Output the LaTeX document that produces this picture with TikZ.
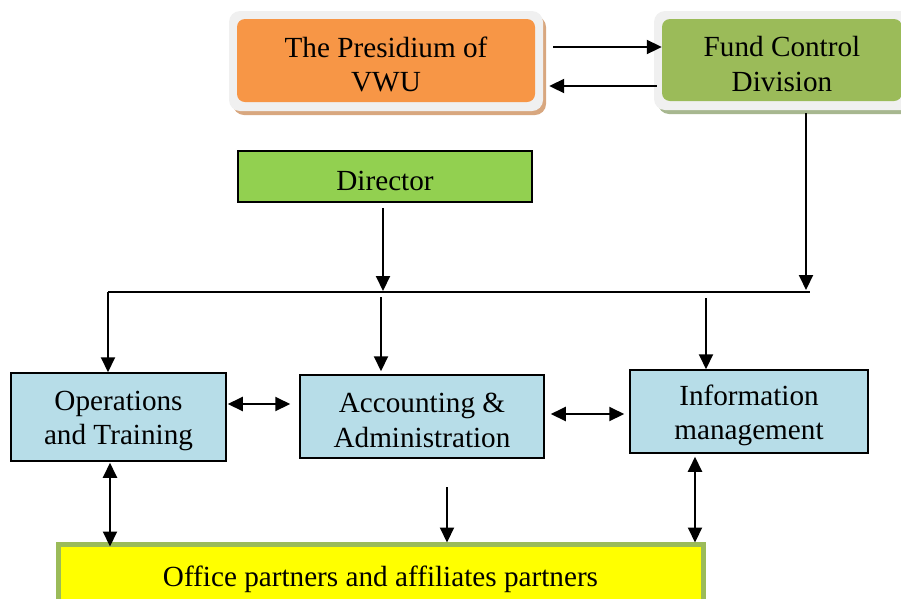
\documentclass[tikz,border=0pt]{standalone}
\usepackage{fontspec}
\setmainfont{Liberation Serif}
\usetikzlibrary{arrows.meta,calc}
\definecolor{presorange}{HTML}{F79646}
\definecolor{fundgreen}{HTML}{9BBB59}
\definecolor{dirgreen}{HTML}{92D050}
\definecolor{unitblue}{HTML}{B7DDE8}
\definecolor{officeyellow}{HTML}{FFFF00}
\definecolor{frameg}{HTML}{F0F0F0}
\definecolor{tanshadow}{HTML}{D8A77F}
\definecolor{greenshadow}{HTML}{A7B78F}
\tikzset{tipshape/.tip={Triangle[length=15pt 0 0,width=14pt 0 0]}}
\begin{document}
\begin{tikzpicture}[x=1pt,y=-1pt,
  lbl/.style={font=\fontsize{29.2}{34.5}\selectfont, align=center, inner sep=0pt, text=black},
  txt/.style={label={[lbl, yshift=-4pt]center:{#1}}},
  topbox/.style={inner sep=0pt, rounded corners=8pt},
  unitbox/.style={inner sep=0pt, draw=black, line width=1.5pt, fill=unitblue},
  conn/.style={line width=2pt, draw=black},
  arr/.style={conn, -tipshape},
  darr/.style={conn, tipshape-tipshape}
]
\useasboundingbox (0,0) rectangle (901,598);
\clip (0,0) rectangle (901,598);

% frames and shadows of the two top boxes
\fill[tanshadow, rounded corners=11pt] (233,16) rectangle (546,115);
\fill[frameg, rounded corners=11pt] (229,11) rectangle (543,111);
\fill[greenshadow, rounded corners=11pt] (658,16) rectangle (916,114);
\fill[frameg, rounded corners=11pt] (654,11) rectangle (912,110);

\node[topbox, fill=presorange, minimum width=298pt, minimum height=83pt,
      txt={The Presidium of\\VWU}] (pres) at (386,60.5) {};
\node[topbox, fill=fundgreen, minimum width=240pt, minimum height=82pt,
      txt={Fund Control\\Division}] (fund) at (782,60) {};

\node[inner sep=0pt, draw=black, line width=1.5pt, fill=dirgreen, minimum width=294pt, minimum height=51pt,
      txt={Director}] (dir) at (385,176.5) {};

\node[unitbox, minimum width=215pt, minimum height=88pt, txt={Operations\\and Training}] (ops) at (118.5,417) {};
\node[unitbox, minimum width=244pt, minimum height=83pt, txt={Accounting \&\\Administration}] (acc) at (422,416.5) {};
\node[unitbox, minimum width=238pt, minimum height=83pt, txt={Information\\management}] (info) at (749,411.5) {};

\node[inner sep=0pt, draw=fundgreen, line width=5pt, fill=officeyellow, minimum width=645pt, minimum height=66pt,
      label={[lbl, yshift=-2pt]center:{Office partners and affiliates partners}}] (office) at (380.5,577) {};

% junction points on the distribution line
\coordinate (jl) at (108,292);
\coordinate (jr) at (810,292);
\coordinate (jd) at (383,291);
\coordinate (jf) at (806,290);
\coordinate (mstart) at (381,297);
\coordinate (rstart) at (706,298);
\coordinate (astart) at (447,487);

% top arrows
\draw[arr] ([shift={(18,-13.5)}]pres.east) -- ([shift={(0,-13)}]fund.west);
\draw[arr] ([shift={(-5,26)}]fund.west) -- ([shift={(14,25.5)}]pres.east);

% director and fund control down to the line
\draw[arr] ([shift={(-2,5)}]dir.south) -- (jd);
\draw[arr] ([shift={(24,12)}]fund.south) -- (jf);
\draw[conn] (jl) -- (jr);

% line down to the units
\draw[arr] (jl) -- ([shift={(-10.5,0)}]ops.north);
\draw[arr] (mstart) -- ([shift={(-41,-3)}]acc.north);
\draw[arr] (rstart) -- ([shift={(-43,0)}]info.north);

% between the units
\draw[darr] ([shift={(1,-13)}]ops.east) -- ([shift={(-9,-12.5)}]acc.west);
\draw[darr] ([shift={(6,-2.5)}]acc.east) -- ([shift={(-5,2.5)}]info.west);

% to the office partners
\draw[darr] ([shift={(-8.5,1)}]ops.south) -- ([shift={(-270.5,5)}]office.north);
\draw[arr] (astart) -- ([shift={(66.5,1)}]office.north);
\draw[darr] ([shift={(-54,3)}]info.south) -- ([shift={(314.5,1)}]office.north);
\end{tikzpicture}
\end{document}
